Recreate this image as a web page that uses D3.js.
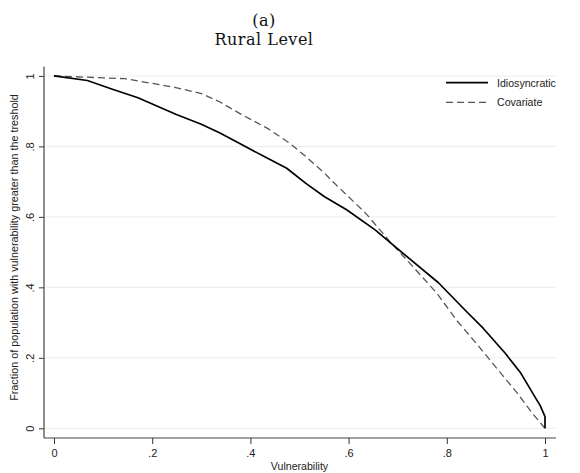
<!DOCTYPE html>
<html>
<head>
<meta charset="utf-8">
<script src="https://cdn.jsdelivr.net/npm/d3@7"></script>
<style>
  html, body { margin: 0; padding: 0; background: #fff; }
  svg { display: block; }
</style>
</head>
<body>
<svg id="chart" width="580" height="473"></svg>
<script>
// ---- data ----
const idioX = [0, 0.068, 0.119, 0.171, 0.248, 0.300, 0.338, 0.384, 0.435, 0.474, 0.513, 0.551, 0.596, 0.654, 0.719, 0.783, 0.841, 0.874, 0.919, 0.951, 0.977, 0.990, 1.0, 1.0];
const idioY = [1.0, 0.987, 0.962, 0.938, 0.891, 0.863, 0.838, 0.804, 0.766, 0.738, 0.695, 0.657, 0.620, 0.563, 0.487, 0.413, 0.330, 0.284, 0.213, 0.156, 0.095, 0.065, 0.033, 0.0];
const covX = [0, 0.145, 0.248, 0.300, 0.338, 0.384, 0.435, 0.480, 0.513, 0.551, 0.564, 0.635, 0.687, 0.725, 0.780, 0.822, 0.854, 0.899, 0.944, 0.974, 1.0];
const covY = [1.0, 0.992, 0.967, 0.950, 0.926, 0.889, 0.851, 0.809, 0.771, 0.724, 0.705, 0.610, 0.525, 0.468, 0.383, 0.303, 0.251, 0.175, 0.099, 0.043, 0.0];
const seriesNames = ["Idiosyncratic", "Covariate"];
const tickValues = [0, 0.2, 0.4, 0.6, 0.8, 1];
const tickLabels = ["0", ".2", ".4", ".6", ".8", "1"];
const titleLines = ["(a)", "Rural Level"];
const xTitle = "Vulnerability";
const yTitle = "Fraction of population with vulnerability greater than the treshold";

// ---- layout ----
const svg = d3.select("#chart");
const x = d3.scaleLinear().domain([0, 1]).range([54, 545]);
const y = d3.scaleLinear().domain([0, 1]).range([428.3, 75.9]);
const axisX = 44, axisY = 438, plotTop = 66.5, plotRight = 556;
const sansFont = "'Liberation Sans', Arial, sans-serif";
const tickFmt = v => tickLabels[tickValues.indexOf(v)];

// gridlines
svg.append("g").selectAll("line").data(tickValues).join("line")
  .attr("x1", axisX).attr("x2", plotRight)
  .attr("y1", d => y(d)).attr("y2", d => y(d))
  .attr("stroke", "#e6eef1").attr("stroke-width", 1);

// x axis
const xg = svg.append("g").attr("transform", `translate(0,${axisY})`)
  .call(d3.axisBottom(x).tickValues(tickValues).tickFormat(tickFmt).tickSize(6).tickSizeOuter(0));
xg.select(".domain").remove();
xg.selectAll("line").attr("stroke", "#333");
xg.selectAll("text").attr("font-family", sansFont).attr("font-size", 11).attr("fill", "#222").attr("dy", null).attr("y", 19);
svg.append("line").attr("x1", axisX).attr("x2", plotRight).attr("y1", axisY).attr("y2", axisY)
  .attr("stroke", "#444").attr("stroke-width", 1.2);

// y axis
const yg = svg.append("g").attr("transform", `translate(${axisX},0)`)
  .call(d3.axisLeft(y).tickValues(tickValues).tickFormat(tickFmt).tickSize(5).tickSizeOuter(0));
yg.select(".domain").remove();
yg.selectAll("line").attr("stroke", "#333");
yg.selectAll("text")
  .attr("font-family", sansFont).attr("font-size", 11).attr("fill", "#222")
  .attr("x", null).attr("dy", null).attr("text-anchor", "middle")
  .attr("transform", "translate(-10,0) rotate(-90)");
svg.append("line").attr("x1", axisX).attr("x2", axisX).attr("y1", plotTop).attr("y2", axisY)
  .attr("stroke", "#444").attr("stroke-width", 1.2);

// lines
const line = d3.line().x(d => x(d[0])).y(d => y(d[1]));
const idio = idioX.map((v, i) => [v, idioY[i]]);
const cov = covX.map((v, i) => [v, covY[i]]);
svg.append("path").datum(cov).attr("d", line).attr("fill", "none")
  .attr("stroke", "#555").attr("stroke-width", 1.3).attr("stroke-dasharray", "7,4");
svg.append("path").datum(idio).attr("d", line).attr("fill", "none")
  .attr("stroke", "#000").attr("stroke-width", 1.7).attr("stroke-linejoin", "round");

// legend
const leg = svg.append("g");
const legY = [82.7, 102.3];
const legX0 = 446, legX1 = 488, legTX = 497;
leg.append("line").attr("x1", legX0).attr("x2", legX1).attr("y1", legY[0]).attr("y2", legY[0])
  .attr("stroke", "#000").attr("stroke-width", 1.7);
leg.append("line").attr("x1", legX0).attr("x2", legX1).attr("y1", legY[1]).attr("y2", legY[1])
  .attr("stroke", "#555").attr("stroke-width", 1.3).attr("stroke-dasharray", "7,4");
leg.selectAll("text").data(seriesNames).join("text")
  .attr("x", legTX).attr("y", (d, i) => legY[i] + 4)
  .attr("font-family", sansFont).attr("font-size", 10.6).attr("fill", "#222")
  .text(d => d);

// axis titles
svg.append("text").attr("x", (x(0) + x(1)) / 2).attr("y", 469.5)
  .attr("text-anchor", "middle").attr("font-family", sansFont).attr("font-size", 10.6).attr("fill", "#222")
  .text(xTitle);
svg.append("text").attr("transform", "translate(17.5,247.5) rotate(-90)")
  .attr("text-anchor", "middle").attr("font-family", sansFont).attr("font-size", 10.8).attr("fill", "#222")
  .text(yTitle);

// title
svg.append("g").selectAll("text").data(titleLines).join("text")
  .attr("x", 264).attr("y", (d, i) => 26 + i * 19)
  .attr("text-anchor", "middle")
  .attr("font-family", "'DejaVu Serif', 'Liberation Serif', serif").attr("font-size", 16)
  .attr("letter-spacing", 0.5).attr("fill", "#111")
  .text(d => d);
</script>
</body>
</html>
